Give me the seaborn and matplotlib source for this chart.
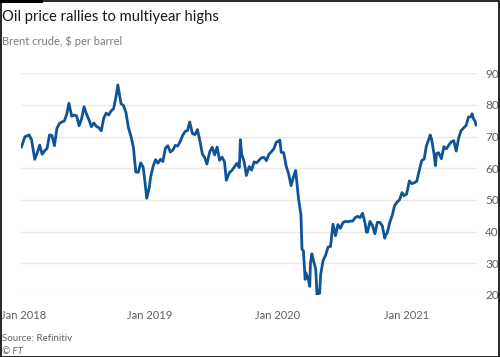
import pandas as pd
import matplotlib.pyplot as plt
import matplotlib.dates as mdates
import matplotlib.transforms as mtransforms
from matplotlib.patches import Rectangle
import seaborn as sns

dates = [
    '2018-01-02', '2018-01-12', '2018-01-24', '2018-01-31', '2018-02-09', '2018-02-16', '2018-02-23',
    '2018-03-02', '2018-03-09', '2018-03-16', '2018-03-23', '2018-03-30', '2018-04-06', '2018-04-13',
    '2018-04-20', '2018-04-27', '2018-05-04', '2018-05-11', '2018-05-17', '2018-05-25', '2018-06-01',
    '2018-06-08', '2018-06-15', '2018-06-22', '2018-06-29', '2018-07-06', '2018-07-13', '2018-07-20',
    '2018-07-27', '2018-08-03', '2018-08-10', '2018-08-17', '2018-08-24', '2018-08-31', '2018-09-07',
    '2018-09-14', '2018-09-21', '2018-09-28', '2018-10-03', '2018-10-12', '2018-10-19', '2018-10-26',
    '2018-11-02', '2018-11-09', '2018-11-16', '2018-11-23', '2018-11-30', '2018-12-07', '2018-12-14',
    '2018-12-21', '2018-12-24', '2018-12-31',
    '2019-01-04', '2019-01-11', '2019-01-18', '2019-01-25', '2019-02-01', '2019-02-08', '2019-02-15',
    '2019-02-22', '2019-03-01', '2019-03-08', '2019-03-15', '2019-03-22', '2019-03-29', '2019-04-05',
    '2019-04-12', '2019-04-19', '2019-04-25', '2019-05-03', '2019-05-10', '2019-05-17', '2019-05-24',
    '2019-05-31', '2019-06-07', '2019-06-13', '2019-06-21', '2019-06-28', '2019-07-05', '2019-07-12',
    '2019-07-19', '2019-07-26', '2019-08-02', '2019-08-07', '2019-08-16', '2019-08-23', '2019-08-30',
    '2019-09-06', '2019-09-13', '2019-09-16', '2019-09-20', '2019-09-27', '2019-10-03', '2019-10-11',
    '2019-10-18', '2019-10-25', '2019-11-01', '2019-11-08', '2019-11-15', '2019-11-22', '2019-11-29',
    '2019-12-06', '2019-12-13', '2019-12-20', '2019-12-27',
    '2020-01-03', '2020-01-06', '2020-01-10', '2020-01-17', '2020-01-24', '2020-01-31', '2020-02-07',
    '2020-02-14', '2020-02-20', '2020-02-28', '2020-03-06', '2020-03-09', '2020-03-13', '2020-03-18',
    '2020-03-20', '2020-03-27', '2020-03-31', '2020-04-02', '2020-04-06', '2020-04-09', '2020-04-17',
    '2020-04-21', '2020-04-24', '2020-04-28', '2020-05-01', '2020-05-08', '2020-05-15', '2020-05-22',
    '2020-05-29', '2020-06-05', '2020-06-12', '2020-06-19', '2020-06-26', '2020-07-03', '2020-07-10',
    '2020-07-17', '2020-07-24', '2020-07-31', '2020-08-07', '2020-08-14', '2020-08-21', '2020-08-28',
    '2020-09-04', '2020-09-08', '2020-09-11', '2020-09-18', '2020-09-25', '2020-10-02', '2020-10-09',
    '2020-10-16', '2020-10-23', '2020-10-30', '2020-11-02', '2020-11-06', '2020-11-13', '2020-11-20',
    '2020-11-27', '2020-12-04', '2020-12-11', '2020-12-18', '2020-12-24', '2020-12-31',
    '2021-01-08', '2021-01-15', '2021-01-22', '2021-01-29', '2021-02-05', '2021-02-12', '2021-02-19',
    '2021-02-25', '2021-03-05', '2021-03-08', '2021-03-12', '2021-03-19', '2021-03-23', '2021-03-26',
    '2021-04-01', '2021-04-09', '2021-04-16', '2021-04-23', '2021-04-30', '2021-05-07', '2021-05-14',
    '2021-05-21', '2021-05-28', '2021-06-04', '2021-06-11', '2021-06-18', '2021-06-25', '2021-07-02',
    '2021-07-05', '2021-07-09', '2021-07-14', '2021-07-16',
]
prices = [
    66.6, 69.9, 70.5, 69.0, 62.8, 64.8, 67.3,
    64.4, 65.5, 66.2, 70.5, 70.3, 67.1, 72.6,
    74.1, 74.6, 74.9, 77.1, 80.5, 76.4, 76.8,
    76.5, 73.4, 75.6, 79.4, 77.1, 75.3, 73.1,
    74.3, 73.2, 72.8, 71.8, 75.8, 77.4, 76.8,
    78.1, 78.8, 82.7, 86.3, 80.4, 79.8, 77.6,
    72.8, 70.2, 66.8, 58.8, 58.7, 61.7, 60.3,
    53.8, 50.5, 53.8,
    57.1, 60.5, 62.7, 61.6, 62.8, 62.1, 66.3,
    67.1, 65.1, 65.7, 67.2, 67.0, 68.4, 70.3,
    71.6, 71.9, 74.6, 70.9, 70.6, 72.2, 68.7,
    64.5, 63.3, 61.3, 65.2, 66.6, 64.2, 66.7,
    62.5, 63.5, 62.0, 56.2, 58.6, 59.3, 60.4,
    61.5, 60.2, 69.0, 64.3, 61.9, 57.7, 60.5,
    59.4, 62.0, 61.7, 62.5, 63.3, 63.4, 62.4,
    64.4, 65.2, 66.1, 68.2,
    68.6, 68.9, 65.0, 64.9, 60.7, 58.2, 54.5,
    57.3, 59.3, 50.5, 45.3, 34.4, 33.9, 24.9,
    27.0, 24.9, 22.7, 29.9, 33.0, 31.5, 28.1,
    19.3, 21.4, 20.5, 26.4, 30.9, 32.5, 35.1,
    35.3, 42.3, 38.7, 42.2, 41.0, 42.8, 43.2,
    43.1, 43.3, 43.3, 44.4, 44.8, 44.4, 45.8,
    42.7, 39.8, 39.8, 43.2, 41.9, 39.3, 42.9,
    42.9, 41.8, 37.9, 39.0, 39.5, 42.8, 45.0,
    48.2, 49.3, 50.0, 52.3, 51.3, 51.8,
    56.0, 55.1, 55.4, 55.9, 59.3, 62.4, 62.9,
    66.9, 69.4, 70.5, 69.2, 64.5, 60.8, 64.6,
    64.9, 63.0, 66.8, 66.1, 67.3, 68.3, 68.7,
    65.4, 69.6, 71.9, 72.7, 73.5, 76.2, 76.2,
    77.2, 75.6, 74.8, 73.6,
]
y_ticks = [20, 30, 40, 50, 60, 70, 80, 90]
x_ticks = ['2018-01-01', '2019-01-01', '2020-01-01', '2021-01-01']
x_labels = ['Jan 2018', 'Jan 2019', 'Jan 2020', 'Jan 2021']

df = pd.DataFrame({'date': pd.to_datetime(dates), 'price': prices})

sns.set_style('white')
plt.rcParams['font.family'] = ['Lato', 'DejaVu Sans']

fig = plt.figure(figsize=(5, 3.57), dpi=100)
ax = fig.add_axes([0.042, 0.174, 0.912, 0.621])

grid_col = '#ece8e2'
for v in y_ticks:
    ax.axhline(v, color=grid_col, lw=1, zorder=0)

sns.lineplot(data=df, x='date', y='price', color='#0f5499', lw=2, ax=ax, zorder=3)

ax.set_ylim(20, 90)
ax.set_xlim(pd.Timestamp('2018-01-01'), pd.Timestamp('2021-07-19'))
ax.set_yticks(y_ticks)
ax.yaxis.tick_right()
ax.tick_params(axis='y', length=0, pad=6, labelsize=8.5, labelcolor='#66605c')

ax.set_xticks(pd.to_datetime(x_ticks), x_labels)
ax.xaxis.set_minor_locator(mdates.MonthLocator())
ax.tick_params(axis='x', which='major', length=7, width=1, color='#d9d3cb',
               labelsize=8, labelcolor='#66605c', pad=4)
ax.tick_params(axis='x', which='minor', length=4, width=1, color='#d9d3cb')
ax.set_xlabel('')
ax.set_ylabel('')
for s in ax.spines.values():
    s.set_visible(False)

# nudge first label so it is not clipped at the left edge
first = ax.get_xticklabels()[0]
first.set_transform(first.get_transform() + mtransforms.ScaledTranslation(2.5 / 100, 0, fig.dpi_scale_trans))

fig.text(0.004, 0.953, 'Oil price rallies to multiyear highs', fontsize=10.6, color='#1a1817', va='center')
fig.text(0.004, 0.885, 'Brent crude, $ per barrel', fontsize=8, color='#807973', va='center')
fig.text(0.004, 0.053, 'Source: Refinitiv', fontsize=7, color='#66605c', va='center')
fig.text(0.004, 0.016, '© FT', fontsize=7, color='#66605c', va='center', style='italic')

# frame around the graphic
fig.patches.append(Rectangle((0.001, 0.001), 0.996, 0.996, transform=fig.transFigure,
                             fill=False, ec='black', lw=1.2))
fig.patches.append(Rectangle((0, 0.992), 0.086, 0.008, transform=fig.transFigure,
                             color='black', lw=0))

plt.savefig('out.png', dpi=100)
